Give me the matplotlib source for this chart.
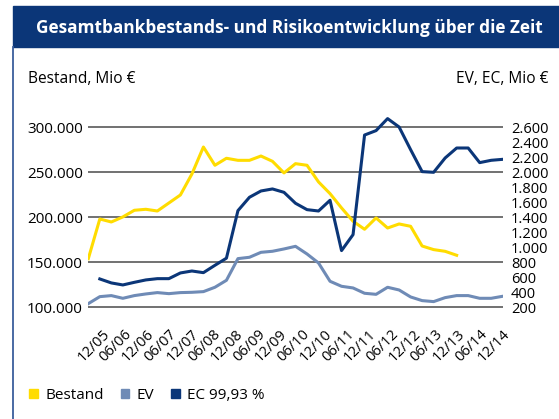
import numpy as np
import matplotlib.pyplot as plt
from matplotlib.patches import Patch, Rectangle
from matplotlib.lines import Line2D

plt.rcParams['font.family'] = ['Open Sans', 'DejaVu Sans']

# quarterly values, 12/05 .. 12/14 (37 quarters)
bestand = [154000, 198100, 194800, 200400, 207800, 208900, 207000, 215900,
           224800, 248100, 278100, 257800, 265600, 263300, 263300, 268100,
           262200, 249300, 259600, 257800, 239300, 226300, 210400, 195600,
           186700, 199300, 188100, 192600, 190000, 168100, 164100, 162200,
           157800]
ev = [249, 342, 356, 320, 356, 378, 396, 382, 396, 400, 409, 467, 560,
      849, 867, 933, 947, 978, 1013, 911, 791, 547, 480, 458, 387, 373,
      467, 431, 338, 289, 276, 329, 356, 356, 320, 320, 347]
# EC starts one quarter later
ec = [578, 525, 498, 533, 565, 582, 582, 658, 684, 662, 760, 855,
      1489, 1667, 1751, 1778, 1733, 1587, 1502, 1484, 1627, 956, 1169, 2497,
      2556, 2716, 2604, 2302, 2009, 2000, 2191, 2324, 2324, 2129, 2160, 2173]
x_labels = ['12/05', '06/06', '12/06', '06/07', '12/07', '06/08', '12/08',
            '06/09', '12/09', '06/10', '12/10', '06/11', '12/11', '06/12',
            '12/12', '06/13', '12/13', '06/14', '12/14']
left_ticks = [100000, 150000, 200000, 250000, 300000]
right_ticks = list(range(200, 2601, 200))

navy = '#0b3678'
yellow = '#ffdc00'
lightblue = '#6f8bb6'
grid = '#666666'

fig = plt.figure(figsize=(5.59, 4.19), dpi=100)

# title bar and left border
fig.patches.append(Rectangle((12.8/559, 1-47/419), 1, 40.6/419, transform=fig.transFigure,
                             color=navy, zorder=0))
fig.lines.append(Line2D([13.4/559, 13.4/559], [0, 1-47/419], transform=fig.transFigure,
                        color='#3a5e9c', lw=1.3))
fig.text(289.6/559, 1-28/419, 'Gesamtbankbestands- und Risikoentwicklung über die Zeit',
         color='white', fontsize=12.4, fontweight='bold', ha='center', va='center')
fig.text(27.7/559, 1-79/419, 'Bestand, Mio €', fontsize=11.2, va='center')
fig.text(549/559, 1-79/419, 'EV, EC, Mio €', fontsize=11.2, va='center', ha='right')

ax1 = fig.add_axes([88.3/559, 1-311.8/419, 414.4/559, 198/419])
ax2 = ax1.twinx()

t = np.arange(len(ev))
ax1.plot(t[:len(bestand)], bestand, color=yellow, lw=2.2, zorder=3)
ax2.plot(t, ev, color=lightblue, lw=2.2)
ax2.plot(t[1:], ec, color=navy, lw=2.2)

ax1.set_xlim(0, 36)
ax1.set_ylim(95000, 315000)
ax2.set_ylim(140, 2780)

ax1.set_yticks(left_ticks)
ax1.set_yticklabels([f'{v:,}'.replace(',', '.') for v in left_ticks], fontsize=11)
ax2.set_yticks(right_ticks)
ax2.set_yticklabels([f'{v:,}'.replace(',', '.') for v in right_ticks], fontsize=10.5)
ax1.tick_params(axis='y', length=0, pad=4)
ax2.tick_params(axis='y', length=0, pad=6)
for v in left_ticks:
    ax1.axhline(v, color=grid, lw=1.3, zorder=1)

# labels in the original sit a bit right of the data and a little tighter
ax1.set_xticks(1.2 + 1.93 * np.arange(len(x_labels)))
ax1.set_xticklabels(x_labels, rotation=45, ha='right', va='top',
                    rotation_mode='anchor', fontsize=10.5)
ax1.tick_params(axis='x', length=0, pad=11)

for ax in (ax1, ax2):
    for s in ax.spines.values():
        s.set_visible(False)

handles = [Patch(color=yellow), Patch(color=lightblue), Patch(color=navy)]
fig.legend(handles, ['Bestand', 'EV', 'EC 99,93 %'], loc='center left',
           bbox_to_anchor=(29.3/559, 1-395.5/419), ncol=3, frameon=False,
           fontsize=11, handlelength=0.55, handleheight=0.55,
           handletextpad=0.5, columnspacing=1.1, borderpad=0, borderaxespad=0)

fig.savefig('out.png', dpi=100)
